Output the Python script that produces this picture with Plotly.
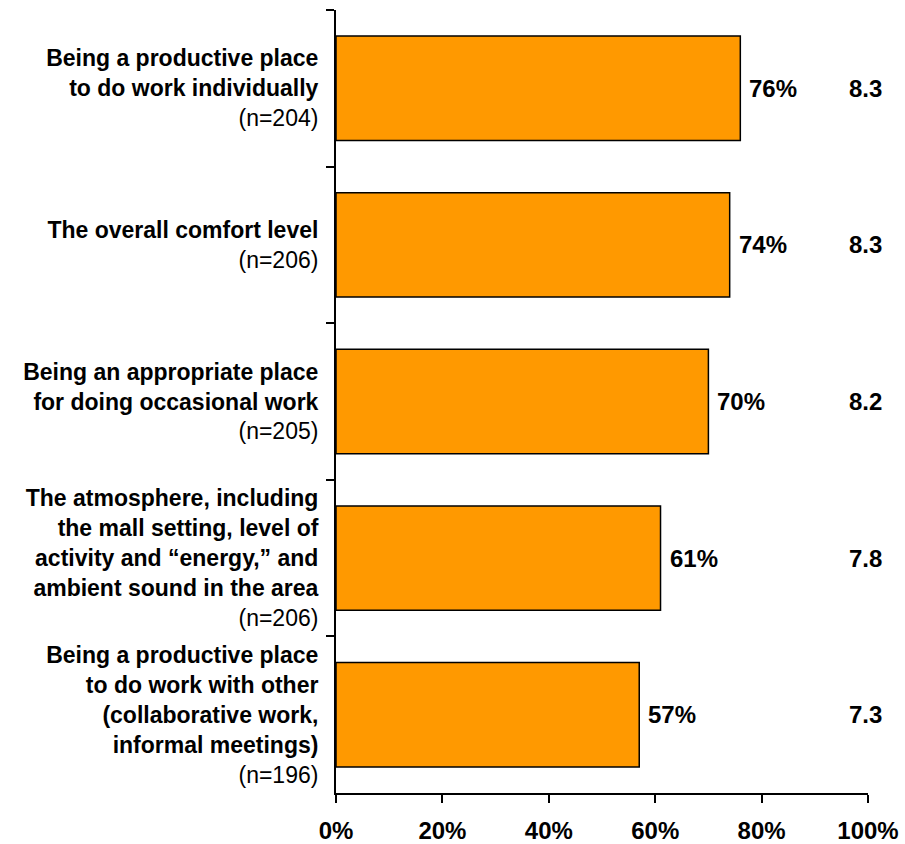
import plotly.graph_objects as go

# Survey items (top to bottom), sample sizes, share of positive ratings and mean score
items = [
    "Being a productive place<br>to do work individually",
    "The overall comfort level",
    "Being an appropriate place<br>for doing occasional work",
    "The atmosphere, including<br>the mall setting, level of<br>activity and \u201cenergy,\u201d and<br>ambient sound in the area",
    "Being a productive place<br>to do work with other<br>(collaborative work,<br>informal meetings)",
]
sample_sizes = [204, 206, 205, 206, 196]
shares = [0.76, 0.74, 0.70, 0.61, 0.57]
mean_scores = [8.3, 8.3, 8.2, 7.8, 7.3]

FONT = "Liberation Sans, Arial, sans-serif"
labels = [f"<b>{t}</b><br>(n={n})" for t, n in zip(items, sample_sizes)]

fig = go.Figure(
    go.Bar(
        x=shares,
        y=labels,
        orientation="h",
        marker=dict(color="#FF9900", line=dict(color="#000000", width=1.5)),
        hoverinfo="x+y",
    )
)

# value labels next to each bar
for lab, v in zip(labels, shares):
    fig.add_annotation(
        x=v, y=lab, xref="x", yref="y",
        text=f"<b>{v:.0%}</b>", showarrow=False,
        xanchor="left", xshift=7,
        font=dict(family=FONT, size=24, color="#000000"),
    )

# mean score column at the right edge
for lab, s in zip(labels, mean_scores):
    fig.add_annotation(
        x=1.0, y=lab, xref="x", yref="y",
        text=f"<b>{s:.1f}</b>", showarrow=False,
        xanchor="center", xshift=-3,
        font=dict(family=FONT, size=24, color="#000000"),
    )

fig.update_layout(
    width=905,
    height=844,
    margin=dict(l=336, r=37, t=10, b=51),
    paper_bgcolor="#FFFFFF",
    plot_bgcolor="#FFFFFF",
    bargap=1 / 3,
    showlegend=False,
    font=dict(family=FONT, color="#000000"),
)

fig.update_xaxes(
    range=[0, 1],
    dtick=0.2,
    tickformat=".0%",
    automargin=False,
    showgrid=False,
    zeroline=False,
    showline=True,
    linecolor="#000000",
    linewidth=2,
    ticks="outside",
    ticklen=8,
    tickwidth=2,
    tickcolor="#000000",
    ticklabelstandoff=7,
    tickfont=dict(family=FONT, size=24, color="#000000", weight="bold"),
)

fig.update_yaxes(
    autorange="reversed",
    type="category",
    tickson="boundaries",
    automargin=False,
    showgrid=False,
    zeroline=False,
    showline=True,
    linecolor="#000000",
    linewidth=2,
    ticks="outside",
    ticklen=8,
    tickwidth=2,
    tickcolor="#000000",
    ticklabelstandoff=11,
    tickfont=dict(family=FONT, size=23, color="#000000"),
)

fig.write_html("out.html")
